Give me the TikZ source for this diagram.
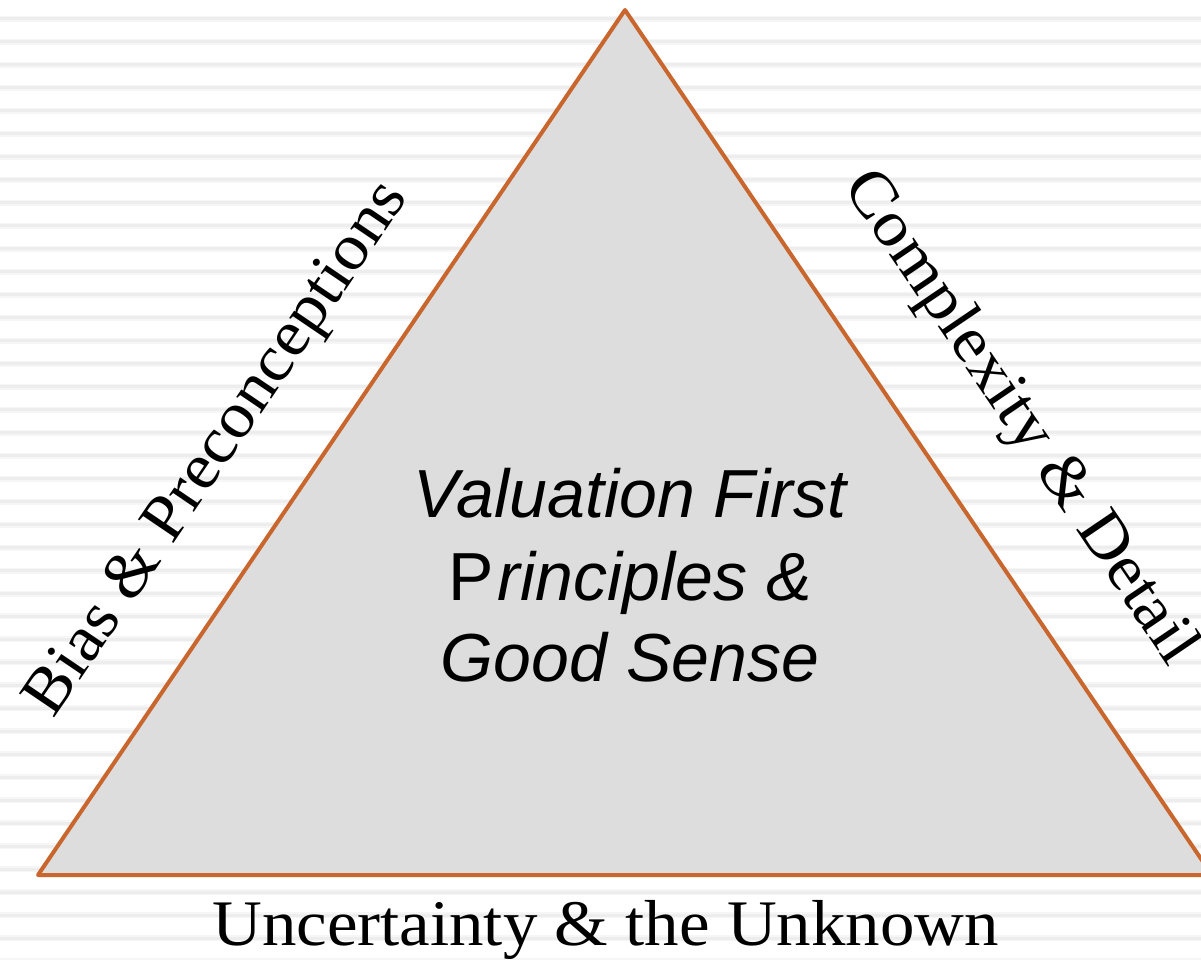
\documentclass[tikz,border=0pt]{standalone}
\usepackage{fontspec}
\setmainfont{Liberation Serif}
\newfontfamily\labelfont[FakeStretch=1.06]{Liberation Serif}
\newfontfamily\centerfont{Liberation Sans}
\definecolor{edgecol}{RGB}{200,102,46}
\definecolor{trifill}{RGB}{221,221,221}
\definecolor{stripeout}{RGB}{246,246,246}
\definecolor{stripein}{RGB}{237,237,237}
\tikzset{
  stripeA/.style={draw=stripeout, line width=6pt},
  stripeB/.style={draw=stripein, line width=3pt},
  tri/.style={draw=edgecol, fill=trifill, line width=4pt, line join=round},
  sidelabel/.style={inner sep=0pt, font=\labelfont\fontsize{65}{70}\selectfont},
  centertext/.style={inner sep=0pt, anchor=base, font=\centerfont\fontsize{68}{82}\selectfont}
}
\begin{document}
\begin{tikzpicture}[x=1pt,y=-1pt]
\useasboundingbox (0,0) rectangle (1201,960);
\begin{scope}
\clip (0,0) rectangle (1201,960);
\fill[white] (0,0) rectangle (1201,960);
\foreach \i in {0,...,41} {
  \draw[stripeA] (0,{19+22.98*\i}) -- (1201,{19+22.98*\i});
  \draw[stripeB] (0,{19+22.98*\i}) -- (1201,{19+22.98*\i});
}
\coordinate (T) at (625,10);
\coordinate (BL) at (38,875);
\coordinate (BR) at (1212,875);
\filldraw[tri] (T) -- (BL) -- (BR) -- cycle;
\path (BL) -- node[sidelabel, sloped, pos=0.4335, above=60pt] (bias) {Bias \& Preconceptions} (T);
\path (T) -- node[sidelabel, sloped, pos=0.535, above=67pt] (complex) {Complexity \& Detail} (BR);
\node[sidelabel, anchor=base] (unknown) at (605.5,945) {Uncertainty \& the Unknown};
\node[centertext] (c1) at (630,517) {\itshape Valuation First};
\node[centertext] (c2) at (630,600) {P\kern4pt\itshape rinciples \&};
\node[centertext] (c3) at (630,681) {\itshape Good Sense};
\end{scope}
\end{tikzpicture}
\end{document}
